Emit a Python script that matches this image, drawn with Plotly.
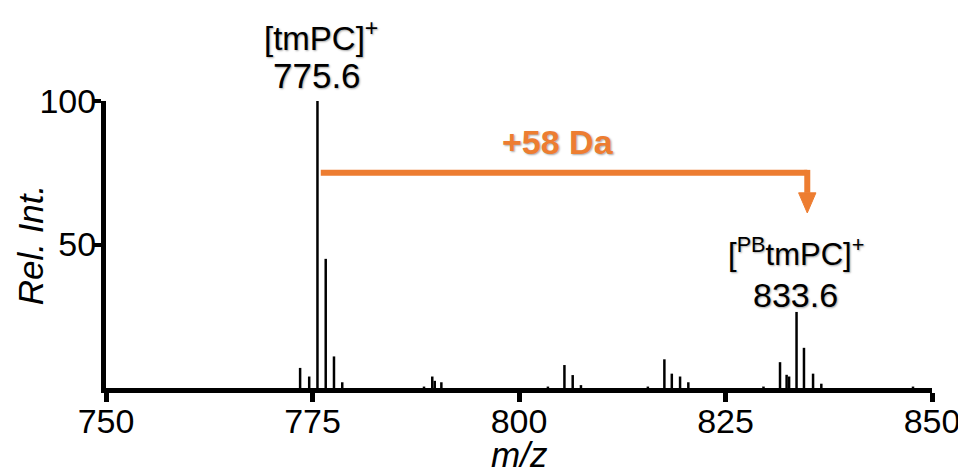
import plotly.graph_objects as go

# ---- data ----
mz = [773.5, 774.6, 775.6, 776.6, 777.6, 778.6,
      788.5, 789.5, 789.8, 790.6,
      803.5, 805.5, 806.5, 807.5,
      815.6, 817.6, 818.5, 819.5, 820.5,
      829.6, 831.6, 832.4, 832.7, 833.6, 834.5, 835.6, 836.6,
      847.7]
intensity = [7, 4, 100, 45, 11, 2,
             0.5, 4, 2.5, 2,
             0.5, 8, 4.5, 1,
             0.5, 10, 5, 4, 2,
             0.5, 9, 4.6, 4, 26.5, 14, 5, 1.5,
             0.5]
x_ticks = [750, 775, 800, 825, 850]
y_ticks = [50, 100]

peak1_mz, peak1_label = 775.6, "775.6"
peak2_mz, peak2_label = 833.6, "833.6"
shift_label = "+58 Da"
arrow_start, arrow_end, arrow_y = 776.0, 834.9, 75

ORANGE = "#ED7D31"
FONT = "Liberation Sans, Arial, sans-serif"
SHADOW = "1px 1px 2px rgba(0,0,0,0.35)"

xs, ys = [], []
for m, h in zip(mz, intensity):
    xs += [m, m, None]
    ys += [0, h, None]

fig = go.Figure()
fig.add_trace(go.Scatter(x=xs, y=ys, mode="lines",
                         line=dict(color="black", width=2.5),
                         hoverinfo="skip", showlegend=False))

# orange arrow
fig.add_shape(type="line", x0=arrow_start, x1=arrow_end, y0=arrow_y, y1=arrow_y,
              line=dict(color=ORANGE, width=6), layer="above")
fig.add_shape(type="line", x0=arrow_end, x1=arrow_end, y0=arrow_y + 1, y1=68,
              line=dict(color=ORANGE, width=6), layer="above")
fig.add_shape(type="path",
              path=f"M {arrow_end-1.05},68 L {arrow_end+1.05},68 L {arrow_end},61 Z",
              fillcolor=ORANGE, line=dict(color=ORANGE, width=1), layer="above")

# peak labels (y in paper units: 1.0 = top of plot)
ann = [
    (peak1_mz + 0.4, 1.225, "[tmPC]<sup>+</sup>", 33),
    (peak1_mz, 1.09, peak1_label, 35),
    (peak2_mz - 0.1, 0.475, "[<sup>PB</sup>tmPC]<sup>+</sup>", 31),
    (peak2_mz - 0.1, 0.325, peak2_label, 34),
]
for x, y, t, s in ann:
    fig.add_annotation(x=x, y=y, xref="x", yref="paper", text=t,
                       showarrow=False, xanchor="center", yanchor="middle",
                       font=dict(family=FONT, color="black", size=s, shadow=SHADOW))
fig.add_annotation(x=(arrow_start + arrow_end) / 2 - 0.7, y=0.857, xref="x", yref="paper",
                   text=f"<b>{shift_label}</b>", showarrow=False,
                   xanchor="center", yanchor="middle",
                   font=dict(family=FONT, color=ORANGE, size=34, shadow=SHADOW))
fig.add_annotation(x=800, y=-0.232, xref="x", yref="paper",
                   text="<i>m/z</i>", showarrow=False, xanchor="center", yanchor="middle",
                   font=dict(family=FONT, color="black", size=35))
fig.add_annotation(x=-0.091, y=0.5, xref="paper", yref="paper",
                   text="<i>Rel. Int.</i>", showarrow=False, textangle=-90,
                   xanchor="center", yanchor="middle",
                   font=dict(family=FONT, color="black", size=35))

# page body has an 8px margin, so the figure is sized/margined to compensate
fig.update_layout(
    width=958, height=466,
    margin=dict(l=98, r=34, t=93, b=86),
    paper_bgcolor="white", plot_bgcolor="white",
    xaxis=dict(range=[750, 850], tickvals=x_ticks, ticktext=[str(v) for v in x_ticks],
               automargin=False,
               showgrid=False, zeroline=False, showline=True, linecolor="black",
               linewidth=5, ticks="outside", ticklen=9, tickwidth=5, tickcolor="black",
               ticklabelstandoff=-10,
               tickfont=dict(family=FONT, size=34, color="black")),
    yaxis=dict(range=[0, 100], tickvals=y_ticks, ticktext=[str(v) for v in y_ticks],
               automargin=False,
               showgrid=False, zeroline=False, showline=True, linecolor="black",
               linewidth=5, ticks="outside", ticklen=7, tickwidth=4, tickcolor="black",
               ticklabelstandoff=-9,
               tickfont=dict(family=FONT, size=34, color="black")),
)

fig.write_html("out.html")
